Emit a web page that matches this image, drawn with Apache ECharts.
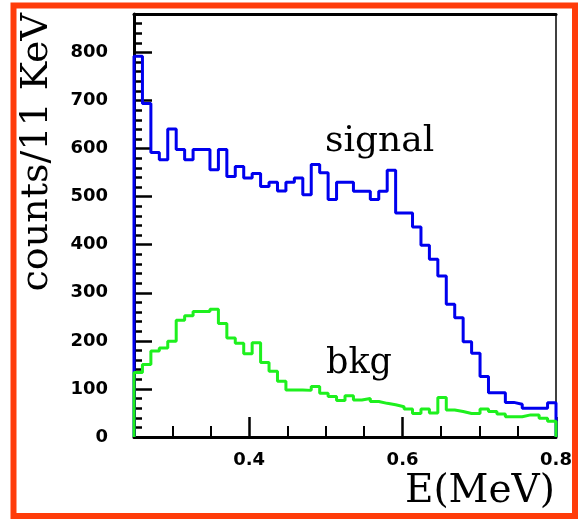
<!DOCTYPE html>
<html>
<head>
<meta charset="utf-8">
<script src="https://cdn.jsdelivr.net/npm/echarts@6/dist/echarts.min.js"></script>
<style>
html,body{margin:0;padding:0;background:#fff;}
#chart{width:579px;height:520px;}
</style>
</head>
<body>
<div id="chart"></div>
<script>
// Histogram binning (E in MeV): 50 bins of 11 keV from 0.25 to 0.80
const binStart = 0.25;
const binWidth = 0.011;
// counts per bin
const signalCounts = [792,694,592,577,641,598,577,598,598,556,
                      598,542,563,539,548,521,530,512,530,539,
                      504,567,550,494,530,530,511,511,494,511,
                      555,466,466,437,399,370,335,276,248,198,
                      174,126,92,92,72,68,60,60,60,71];
const bkgCounts = [134,151,179,185,199,243,252,261,261,266,
                   236,206,195,173,196,155,137,116,98,98,
                   97,105,91,84,76,86,77,80,74,70,
                   67,63,58,49,58,50,82,56,53,49,
                   49,58,53,48,42,42,46,46,39,33];
const xMajorTicks = [0.4, 0.6, 0.8];
const xMinorTicks = [0.3, 0.35, 0.45, 0.5, 0.55, 0.65, 0.7, 0.75];
const yMajorTicks = [0,100,200,300,400,500,600,700,800];
const yMinorTicks = [20,40,60,80,120,140,160,180,220,240,260,280,320,340,360,380,
                     420,440,460,480,520,540,560,580,620,640,660,680,720,740,760,780,820,840,860];
const xMin = 0.25, xMax = 0.8, yMin = 0, yMax = 880;

function histPoints(counts) {
  const pts = [[binStart, 0]];
  counts.forEach((c, i) => pts.push([binStart + i * binWidth, c]));
  const end = binStart + counts.length * binWidth;
  pts.push([end, counts[counts.length - 1]]);
  pts.push([end, 0]);
  return pts;
}

const chart = echarts.init(document.getElementById('chart'), null, {renderer: 'canvas'});
const tickFont = {fontFamily: 'DejaVu Sans', fontWeight: 'bold', fontSize: 18, color: '#000'};

const option = {
  animation: false,
  backgroundColor: '#fff',
  grid: {left: 134, right: 23, top: 14, bottom: 83, containLabel: false},
  xAxis: [
    {type: 'value', min: xMin, max: xMax, position: 'bottom',
     axisLine: {show: true, onZero: false, lineStyle: {color: '#000', width: 3}},
     axisTick: {show: true, inside: true, length: 20, customValues: xMajorTicks, lineStyle: {color: '#000', width: 2.5}},
     axisLabel: Object.assign({show: true, margin: 14, customValues: xMajorTicks, formatter: v => v.toFixed(1)}, tickFont),
     splitLine: {show: false}},
    {type: 'value', min: xMin, max: xMax, position: 'bottom',
     axisLine: {show: false, onZero: false},
     axisTick: {show: true, inside: true, length: 11, customValues: xMinorTicks, lineStyle: {color: '#000', width: 2}},
     axisLabel: {show: false}, splitLine: {show: false}},
    {type: 'value', min: xMin, max: xMax, position: 'top',
     axisLine: {show: true, onZero: false, lineStyle: {color: '#000', width: 3}},
     axisTick: {show: false}, axisLabel: {show: false}, splitLine: {show: false}}
  ],
  yAxis: [
    {type: 'value', min: yMin, max: yMax, position: 'left',
     axisLine: {show: true, onZero: false, lineStyle: {color: '#000', width: 3}},
     axisTick: {show: true, inside: true, length: 18, customValues: yMajorTicks, lineStyle: {color: '#000', width: 2.5}},
     axisLabel: Object.assign({show: true, margin: 26, customValues: yMajorTicks}, tickFont),
     splitLine: {show: false}},
    {type: 'value', min: yMin, max: yMax, position: 'left',
     axisLine: {show: false, onZero: false},
     axisTick: {show: true, inside: true, length: 8, customValues: yMinorTicks, lineStyle: {color: '#000', width: 2.5}},
     axisLabel: {show: false}, splitLine: {show: false}},
    {type: 'value', min: yMin, max: yMax, position: 'right',
     axisLine: {show: true, onZero: false, lineStyle: {color: '#000', width: 1.5}},
     axisTick: {show: false}, axisLabel: {show: false}, splitLine: {show: false}}
  ],
  series: [
    {name: 'signal', type: 'line', step: 'end', xAxisIndex: 0, yAxisIndex: 0,
     data: histPoints(signalCounts), showSymbol: false, symbol: 'none', clip: false,
     lineStyle: {color: '#0000ee', width: 3}, z: 3},
    {name: 'bkg', type: 'line', step: 'end', xAxisIndex: 0, yAxisIndex: 0,
     data: histPoints(bkgCounts), showSymbol: false, symbol: 'none', clip: false,
     lineStyle: {color: '#1ef01e', width: 3}, z: 4}
  ],
  graphic: [
    {type: 'rect', z: 100, silent: true,
     shape: {x: 13.5, y: 5.5, width: 561.5, height: 510.5},
     style: {fill: 'none', stroke: '#ff3c0a', lineWidth: 6}},
    {type: 'text', x: 37, y: 13, rotation: Math.PI / 2, z: 100,
     style: {text: 'counts/11 KeV', font: '38px "DejaVu Serif"', align: 'right', verticalAlign: 'middle', fill: '#000'}},
    {type: 'text', x: 555, y: 492, z: 100,
     style: {text: 'E(MeV)', font: '39px "DejaVu Serif"', align: 'right', verticalAlign: 'middle', fill: '#000'}},
    {type: 'text', x: 325, y: 142, z: 100,
     style: {text: 'signal', font: '36px "DejaVu Serif"', align: 'left', verticalAlign: 'middle', fill: '#000'}},
    {type: 'text', x: 326, y: 364, z: 100,
     style: {text: 'bkg', font: '35px "DejaVu Serif"', align: 'left', verticalAlign: 'middle', fill: '#000'}}
  ]
};
chart.setOption(option);
</script>
</body>
</html>
